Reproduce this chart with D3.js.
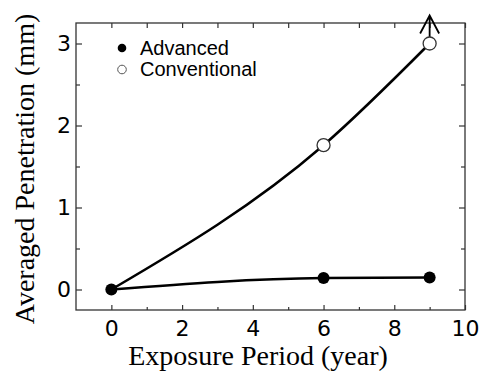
<!DOCTYPE html>
<html>
<head>
<meta charset="utf-8">
<script src="https://cdn.jsdelivr.net/npm/d3@7"></script>
<style>
  body { margin: 0; background: #fff; }
  svg { display: block; }
</style>
</head>
<body>
<div id="chart"></div>
<script>
// Exposure period (years) and averaged penetration (mm) for two types
const years = [0, 6, 9];
const advanced = [0, 0.14, 0.145];
const conventional = [0, 1.76, 3.0];
const seriesNames = ['Advanced', 'Conventional'];

const xMajor = [0, 2, 4, 6, 8, 10];
const xMinor = [1, 3, 5, 7, 9];
const yMajor = [0, 1, 2, 3];
const yMinor = [0.5, 1.5, 2.5];

const width = 487, height = 372;
const plot = { left: 76, right: 465, top: 23, bottom: 310 };

const svg = d3.select('#chart')
  .append('svg')
  .attr('width', width)
  .attr('height', height);

const x = d3.scaleLinear().domain([-1, 10]).range([plot.left, plot.right]);
const y = d3.scaleLinear().domain([-0.25, 3.25]).range([plot.bottom, plot.top]);

const frameColor = '#333';
const sans = '"DejaVu Sans", Verdana, sans-serif';
const legendFont = '"Liberation Sans", Arial, sans-serif';
const serif = '"Liberation Serif", "Times New Roman", serif';

// axes: ticks point inward on all four sides
function styleAxis(g) {
  g.select('.domain').remove();
  g.selectAll('.tick line').attr('stroke', frameColor).attr('stroke-width', 1.2);
  g.selectAll('.tick text')
    .attr('fill', '#000')
    .style('font-family', sans)
    .style('font-size', '22px');
}

svg.append('g')
  .attr('transform', `translate(0,${plot.bottom})`)
  .call(d3.axisBottom(x).tickValues(xMajor).tickSize(-5).tickPadding(10).tickFormat(d3.format('d')))
  .call(styleAxis);
svg.append('g')
  .attr('transform', `translate(0,${plot.bottom})`)
  .call(d3.axisBottom(x).tickValues(xMinor).tickSize(-3).tickFormat(''))
  .call(styleAxis);
svg.append('g')
  .attr('transform', `translate(0,${plot.top})`)
  .call(d3.axisTop(x).tickValues(xMajor.concat(xMinor)).tickSize(-5).tickFormat(''))
  .call(styleAxis);

svg.append('g')
  .attr('transform', `translate(${plot.left},0)`)
  .call(d3.axisLeft(y).tickValues(yMajor).tickSize(-6).tickPadding(5).tickFormat(d3.format('d')))
  .call(styleAxis);
svg.append('g')
  .attr('transform', `translate(${plot.left},0)`)
  .call(d3.axisLeft(y).tickValues(yMinor).tickSize(-4).tickFormat(''))
  .call(styleAxis);
svg.append('g')
  .attr('transform', `translate(${plot.right},0)`)
  .call(d3.axisRight(y).tickValues(yMajor).tickSize(-6).tickFormat(''))
  .call(styleAxis);
svg.append('g')
  .attr('transform', `translate(${plot.right},0)`)
  .call(d3.axisRight(y).tickValues(yMinor).tickSize(-4).tickFormat(''))
  .call(styleAxis);

// frame
svg.append('rect')
  .attr('x', plot.left)
  .attr('y', plot.top)
  .attr('width', plot.right - plot.left)
  .attr('height', plot.bottom - plot.top)
  .attr('fill', 'none')
  .attr('stroke', frameColor)
  .attr('stroke-width', 1.3);

// curves
const line = d3.line()
  .x(d => x(d[0]))
  .y(d => y(d[1]))
  .curve(d3.curveMonotoneX);

const advPts = years.map((t, i) => [t, advanced[i]]);
const convPts = years.map((t, i) => [t, conventional[i]]);

[advPts, convPts].forEach(pts => {
  svg.append('path')
    .attr('d', line(pts))
    .attr('fill', 'none')
    .attr('stroke', '#000')
    .attr('stroke-width', 2.5);
});

// arrow above the last conventional point (penetration beyond 3 mm)
const last = convPts[convPts.length - 1];
const ax = x(last[0]), ay = y(last[1]);
svg.append('path')
  .attr('d', `M${ax},${ay - 6.5} V${ay - 28} M${ax - 9.5},${ay - 10} L${ax},${ay - 28} L${ax + 9.5},${ay - 10}`)
  .attr('fill', 'none')
  .attr('stroke', '#000')
  .attr('stroke-width', 1.8);

// markers
svg.selectAll('.adv')
  .data(advPts)
  .enter()
  .append('circle')
  .attr('class', 'adv')
  .attr('cx', d => x(d[0]))
  .attr('cy', d => y(d[1]))
  .attr('r', 6)
  .attr('fill', '#000');

svg.selectAll('.conv')
  .data(convPts.slice(1))
  .enter()
  .append('circle')
  .attr('class', 'conv')
  .attr('cx', d => x(d[0]))
  .attr('cy', d => y(d[1]))
  .attr('r', 6.5)
  .attr('fill', '#fff')
  .attr('stroke', '#333')
  .attr('stroke-width', 1.3);

// legend
const legend = svg.append('g').attr('transform', 'translate(122,48)');
seriesNames.forEach((name, i) => {
  const row = legend.append('g').attr('transform', `translate(0,${i * 21.5})`);
  row.append('circle')
    .attr('r', 4.3)
    .attr('fill', i === 0 ? '#000' : '#fff')
    .attr('stroke', i === 0 ? 'none' : '#555')
    .attr('stroke-width', 1);
  row.append('text')
    .attr('x', 18)
    .attr('y', 6.5)
    .style('font-family', legendFont)
    .style('font-size', '20px')
    .text(name);
});

// axis titles
svg.append('text')
  .attr('x', 258)
  .attr('y', 365)
  .attr('text-anchor', 'middle')
  .style('font-family', serif)
  .style('font-size', '28px')
  .text('Exposure Period (year)');

svg.append('text')
  .attr('transform', 'translate(34,169) rotate(-90)')
  .attr('text-anchor', 'middle')
  .style('font-family', serif)
  .style('font-size', '28px')
  .text('Averaged Penetration (mm)');
</script>
</body>
</html>
